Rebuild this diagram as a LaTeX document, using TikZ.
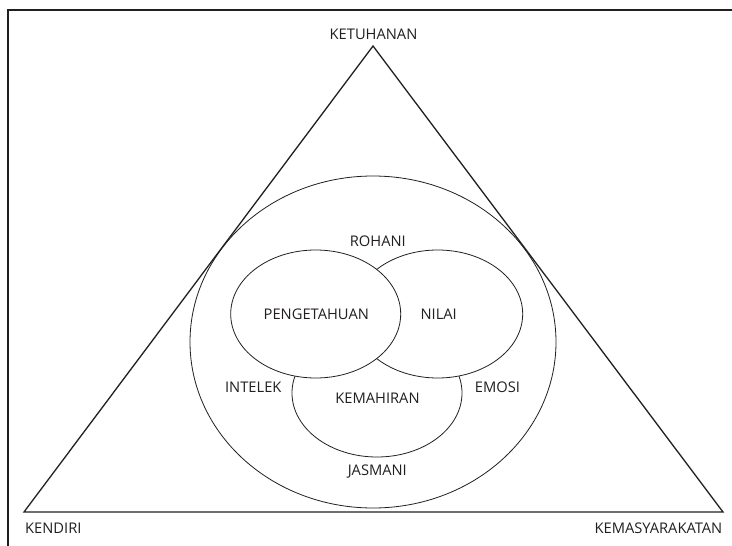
\documentclass[tikz,border=0pt]{standalone}
\usepackage{fontspec}
\setmainfont{Open Sans}
\definecolor{ink}{HTML}{231F20}
\begin{document}
\begin{tikzpicture}[x=1pt,y=-1pt,
  lbl/.style={font=\fontsize{14.7}{17}\selectfont, text=ink, inner sep=0pt},
  tri/.style={draw=ink, line width=1.3pt, line join=miter},
  ring/.style={draw=ink, line width=0.8pt},
  frame/.style={draw=ink, line width=1.8pt}]
\useasboundingbox (0,0) rectangle (732,546);
\fill[white] (0,0) rectangle (732,546);
% frame
\draw[frame] (8,546) -- (8,10) -- (732,10);
% triangle
\coordinate (apex) at (373,46);
\coordinate (bl) at (24,512);
\coordinate (br) at (723,512);
\draw[tri] (apex) -- (bl) -- (br) -- cycle;
% ellipses (later ones hide the parts of earlier ones beneath them)
\draw[ring] (373,342) ellipse [x radius=183, y radius=166];
\draw[ring] (377,393) ellipse [x radius=85, y radius=64];
\filldraw[ring, fill=white] (437.7,314) ellipse [x radius=85, y radius=64];
\filldraw[ring, fill=white] (315.7,314) ellipse [x radius=85, y radius=64];
% labels
\node[lbl] (ketuhanan) at (373.5,34) {KETUHANAN};
\node[lbl, anchor=west] (kendiri) at (25,528.7) {KENDIRI};
\node[lbl, anchor=east] (kemasy) at (722.5,528.7) {KEMASYARAKATAN};
\node[lbl] (rohani) at (377.8,241.7) {ROHANI};
\node[lbl] (pengetahuan) at (316.3,314.3) {PENGETAHUAN};
\node[lbl] (nilai) at (438.7,314.3) {NILAI};
\node[lbl] (intelek) at (253.3,387.7) {INTELEK};
\node[lbl] (kemahiran) at (377.5,398.7) {KEMAHIRAN};
\node[lbl] (emosi) at (497.5,387.7) {EMOSI};
\node[lbl] (jasmani) at (377.3,471.7) {JASMANI};
\end{tikzpicture}
\end{document}
